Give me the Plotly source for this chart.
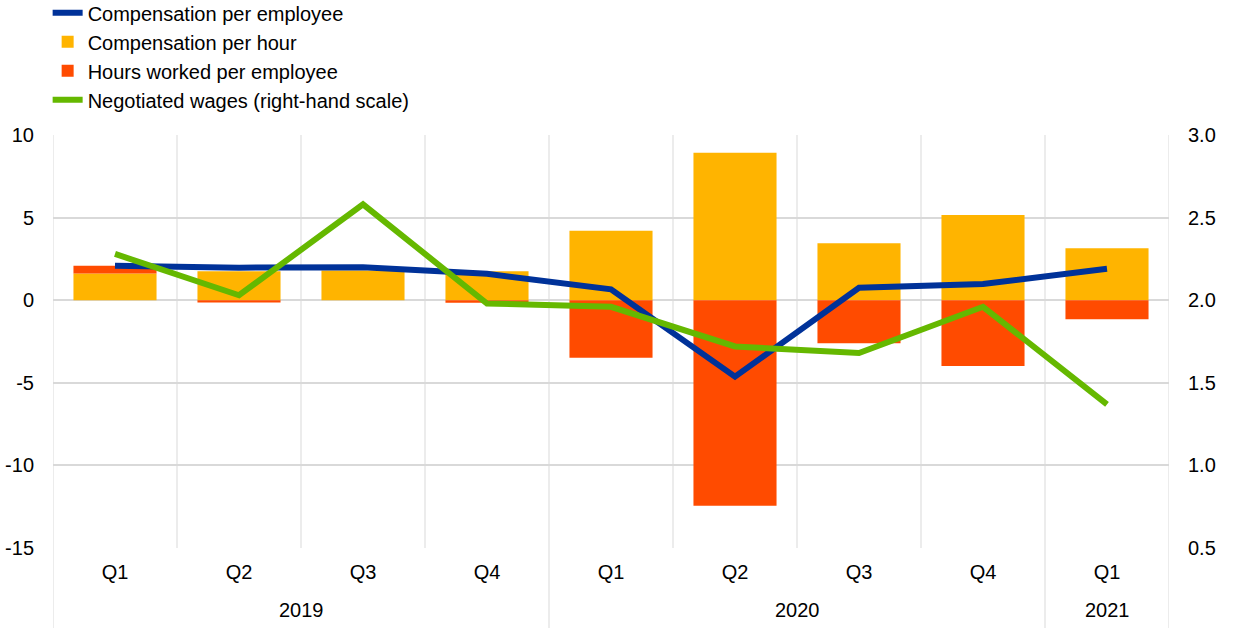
import plotly.graph_objects as go

years = ["2019", "2020", "2021"]
year_quarter_counts = [4, 4, 1]
quarters = ["Q1", "Q2", "Q3", "Q4", "Q1", "Q2", "Q3", "Q4", "Q1"]

comp_per_employee = [2.08, 1.97, 2.0, 1.6, 0.66, -4.63, 0.75, 0.98, 1.9]
comp_per_hour = [1.62, 1.75, 1.8, 1.75, 4.2, 8.93, 3.44, 5.16, 3.14]
hours_per_employee = [0.46, -0.14, 0.0, -0.15, -3.48, -12.44, -2.61, -3.98, -1.16]
negotiated_wages = [2.28, 2.03, 2.58, 1.98, 1.96, 1.72, 1.68, 1.96, 1.37]

left_ticks = [-15, -10, -5, 0, 5, 10]
left_ticktext = ["-15", "-10", "-5", "0", "5", "10"]
right_ticks = [0.5, 1.0, 1.5, 2.0, 2.5, 3.0]

xpos = list(range(len(quarters)))

BLUE = "#003299"
YELLOW = "#FFB400"
ORANGE = "#FF4B00"
GREEN = "#65B800"
GRID = "#d9d9d9"

FONT_FAMILY = "Liberation Sans, Arial, sans-serif"
font = dict(family=FONT_FAMILY, size=20, color="black")
legend_font = dict(family=FONT_FAMILY, size=20, color="black")

fig = go.Figure()
fig.add_trace(go.Bar(x=xpos, y=comp_per_hour, name="Compensation per hour",
                     marker=dict(color=YELLOW, line=dict(width=0)), legendrank=2))
fig.add_trace(go.Bar(x=xpos, y=hours_per_employee, name="Hours worked per employee",
                     marker=dict(color=ORANGE, line=dict(width=0)), legendrank=3))
fig.add_trace(go.Scatter(x=xpos, y=comp_per_employee, name="Compensation per employee",
                         mode="lines", line=dict(color=BLUE, width=6), legendrank=1))
fig.add_trace(go.Scatter(x=xpos, y=negotiated_wages, name="Negotiated wages (right-hand scale)",
                         mode="lines", line=dict(color=GREEN, width=6), yaxis="y2", legendrank=4))

# category boundaries (gridlines between quarters)
boundaries = [i - 0.5 for i in range(len(quarters) + 1)]
shapes = []
for b in boundaries:
    shapes.append(dict(type="line", xref="x", yref="paper", x0=b, x1=b, y0=0, y1=1,
                       line=dict(color=GRID, width=1), layer="below"))
# year dividers extending below the axis
year_bounds = [-0.5]
acc = -0.5
for c in year_quarter_counts:
    acc += c
    year_bounds.append(acc)
for b in year_bounds:
    shapes.append(dict(type="line", xref="x", yref="paper", x0=b, x1=b, y0=-0.2, y1=0,
                       line=dict(color=GRID, width=1), layer="below"))

annotations = []
start = -0.5
for yr, c in zip(years, year_quarter_counts):
    annotations.append(dict(x=start + c / 2, y=-0.149, xref="x", yref="paper", text=yr,
                            showarrow=False, font=font, xanchor="center", yanchor="middle"))
    start += c

fig.update_layout(
    width=1240, height=628,
    margin=dict(l=53, r=71, t=135, b=80, autoexpand=False),
    paper_bgcolor="white", plot_bgcolor="white",
    font=font,
    barmode="relative",
    bargap=0.33,
    showlegend=True,
    legend=dict(x=-0.0048, y=1.343, xref="paper", yref="paper", xanchor="left", yanchor="top",
                font=legend_font, bgcolor="rgba(0,0,0,0)", itemwidth=30, tracegroupgap=0,
                traceorder="normal"),
    xaxis=dict(range=[-0.5, 8.5], tickvals=xpos, ticktext=quarters, showgrid=False,
               ticks="", showline=False, zeroline=False, ticklabelstandoff=10, tickfont=font),
    yaxis=dict(range=[-15, 10], tickvals=left_ticks, ticktext=left_ticktext, showgrid=True,
               gridcolor=GRID, gridwidth=2, zeroline=True, zerolinecolor=GRID, zerolinewidth=2,
               showline=False, ticks="", ticklabelstandoff=18, tickfont=font),
    yaxis2=dict(range=[0.5, 3.0], tickvals=right_ticks, tickformat=".1f",
                overlaying="y", side="right", showgrid=False, zeroline=False,
                showline=False, ticks="", ticklabelstandoff=18, tickfont=font),
    shapes=shapes,
    annotations=annotations,
)

fig.write_html("out.html", config={"displayModeBar": False},
               post_script="document.body.style.margin='0';")
